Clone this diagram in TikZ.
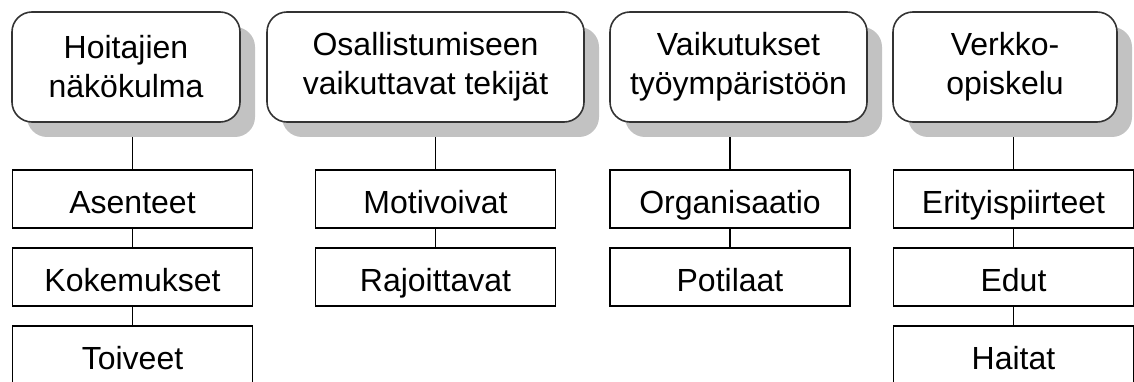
\documentclass[tikz,border=0pt]{standalone}
\usepackage{fontspec}
\setmainfont{Liberation Sans}
\usetikzlibrary{positioning,shadows,backgrounds}
\tikzset{
  topic/.style={draw=black!80, line width=1.6pt, rounded corners=20pt, fill=white,
    align=center, minimum height=110pt, inner sep=0pt,
    drop shadow={shadow xshift=15pt, shadow yshift=-15pt, fill=black!24, opacity=1}},
  item/.style={draw, line width=1.6pt, fill=white, minimum width=240pt,
    minimum height=58pt, inner sep=0pt, outer sep=0pt,
    text height=28pt, text depth=0pt},
  link/.style={line width=1.6pt}
}
\begin{document}
\begin{tikzpicture}[x=1pt, y=-1pt, font=\fontsize{32}{39}\selectfont]
   \clip (0,0) rectangle (1134,382);
   % headings
   \node (H) [topic, minimum width=228pt] at (126,67)   {Hoitajien\\näkökulma};
   \node (O) [topic, minimum width=317pt] at (425.5,67) {Osallistumiseen\\vaikuttavat tekijät};
   \node (V) [topic, minimum width=257pt] at (738.5,67) {Vaikutukset\\työympäristöön};
   \node (W) [topic, minimum width=224pt] at (1005,67)  {Verkko-\\opiskelu};
   % items
   \node (H1) [item] at (132.5,199) {Asenteet};
   \node (H2) [item, below=20pt of H1] {Kokemukset};
   \node (H3) [item, below=20pt of H2] {Toiveet};
   \node (O1) [item] at (435.5,199) {Motivoivat};
   \node (O2) [item, below=20pt of O1] {Rajoittavat};
   \node (V1) [item] at (730,199) {Organisaatio};
   \node (V2) [item, below=20pt of V1] {Potilaat};
   \node (W1) [item] at (1013.5,199) {Erityispiirteet};
   \node (W2) [item, below=20pt of W1] {Edut};
   \node (W3) [item, below=20pt of W2] {Haitat};
   \begin{scope}[on background layer]
   \path[link]
     (H1) edge (H1 |- H.south)
          edge (H2)
     (H2) edge (H3)
     (O1) edge (O1 |- O.south)
          edge (O2)
     (V1) edge (V1 |- V.south)
          edge (V2)
     (W1) edge (W1 |- W.south)
          edge (W2)
     (W2) edge (W3);
   \end{scope}
  \end{tikzpicture}
\end{document}
